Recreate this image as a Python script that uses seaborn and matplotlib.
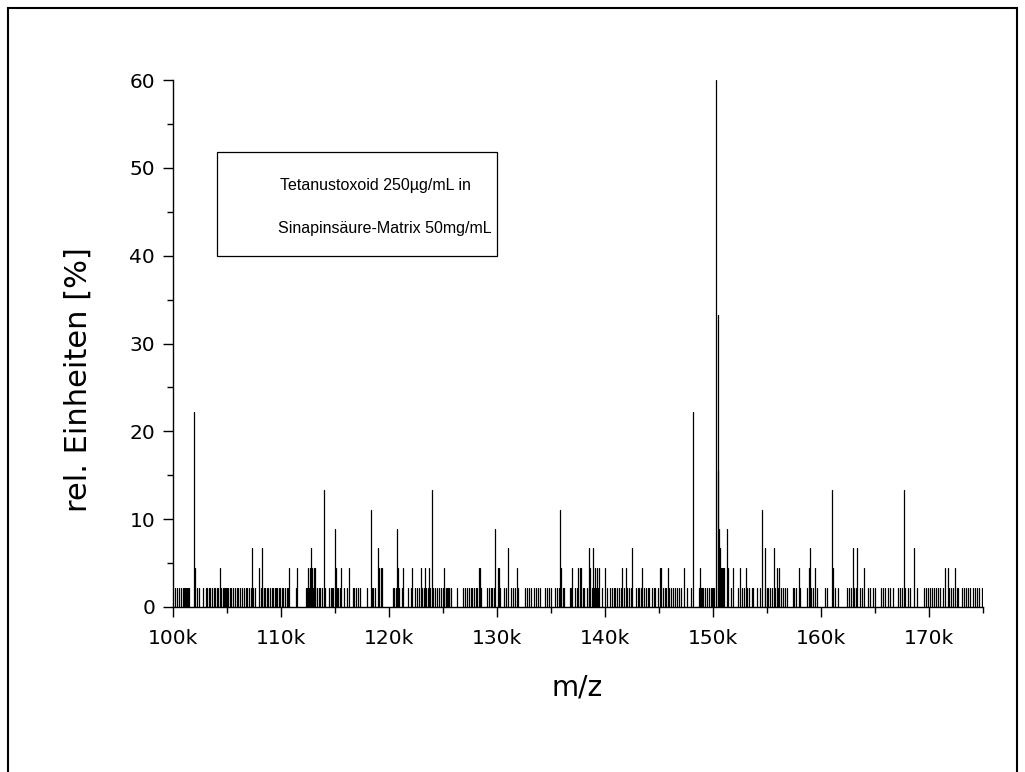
import pandas as pd
import seaborn as sns
import matplotlib.pyplot as plt
from matplotlib.ticker import MultipleLocator, FuncFormatter
from matplotlib.patches import Rectangle

# baseline noise sticks (all at the lowest level)
noise_mz = [
    100130, 100310, 100500, 100710, 100870, 100960, 101050, 101140, 101240, 101330,
    101420, 102230, 102410, 102720, 103000, 103150, 103270, 103430, 103580, 103740,
    103860, 104010, 104140, 104420, 104570, 104660, 104760, 104850, 104940, 105100,
    105220, 105370, 105560, 105740, 105870, 106020, 106210, 106390, 106550, 106700,
    106850, 107040, 107190, 107410, 107530, 108090, 108240, 108370, 108490, 108640,
    108770, 108950, 109110, 109260, 109380, 109510, 109630, 109790, 109910, 110030,
    110190, 110340, 110500, 110620, 111330, 112290, 112410, 112530, 112660, 112780,
    112900, 113030, 113150, 113270, 113460, 113610, 113740, 114040, 114450, 114570,
    114690, 114820, 115120, 115280, 115430, 115800, 116050, 116610, 116760, 116910,
    117130, 117280, 117900, 118400, 118520, 118670, 120310, 120430, 120590, 120900,
    121140, 121760, 121980, 122380, 122560, 122780, 123060, 123210, 123390, 123610,
    123770, 124070, 124260, 124410, 124570, 124750, 124940, 125100, 125250, 125370,
    125400, 125490, 125560, 125740, 126240, 126850, 127040, 127230, 127380, 127530,
    127690, 127840, 128000, 128150, 128520, 129080, 129230, 129390, 129540, 129660,
    130250, 130590, 130770, 131270, 131450, 131640, 131950, 132560, 132750, 132900,
    133090, 133430, 133610, 133770, 133950, 134420, 134600, 134750, 134970, 135370,
    135530, 135680, 136050, 136170, 136730, 136850, 137190, 137350, 137900, 138060,
    138330, 138460, 138740, 138950, 139140, 139320, 139660, 140120, 140430, 140620,
    140770, 140930, 141110, 141300, 141450, 141730, 142040, 142190, 142350, 142840,
    142990, 143150, 143300, 143580, 143770, 143920, 144070, 144290, 144480, 144630,
    144910, 145370, 145530, 145650, 145930, 146110, 146300, 146480, 146670, 146850,
    147040, 147530, 147930, 148640, 148830, 148950, 149070, 149260, 149410, 149570,
    149820, 149850, 150000, 150060, 151610, 152320, 152630, 152870, 153150, 153340,
    153550, 153710, 154010, 154320, 154790, 154940, 155100, 155250, 155400, 155740,
    155960, 156240, 156420, 156610, 156790, 157350, 157500, 157660, 158030, 158640,
    159050, 159260, 159570, 160340, 160500, 161270, 161580, 162410, 162590, 162750,
    163030, 163210, 163580, 163740, 164350, 164510, 164750, 165000, 165490, 165680,
    165900, 166200, 166390, 166610, 167130, 167280, 167440, 167750, 168060, 168210,
    168830, 169540, 169690, 169850, 170060, 170250, 170430, 170620, 170800, 170990,
    171300, 171850, 172040, 172220, 172530, 172690, 173060, 173210, 173390, 173550,
    173760, 174070, 174230, 174380, 174570, 174850,
]
noise_int = 2.2

# taller peaks
peak_mz = [
    101920, 102040, 104290, 107260, 107960, 108180, 110710, 111480, 112500, 112630,
    112720, 112870, 113000, 113120, 113920, 114940, 115030, 115530, 116270, 118270,
    118980, 119070, 119200, 119320, 120680, 120770, 121300, 122130, 122900, 123330,
    123700, 123950, 125060, 128310, 128370, 129820, 130030, 130160, 130960, 131820,
    135770, 135900, 136950, 137500, 137620, 137780, 138520, 138610, 138860, 139010,
    139200, 139410, 139970, 141540, 141910, 142440, 143430, 145060, 145190, 145770,
    147250, 148120, 148730, 150280, 150400, 150480, 150560, 150650, 150740, 150830,
    150920, 151010, 151240, 151390, 151820, 152440, 153000, 154480, 154760, 155620,
    155870, 156110, 157900, 158830, 158950, 159420, 160960, 161110, 162900, 163330,
    163980, 167620, 168610, 171420, 171700, 172380,
]
peak_int = [
    22.2, 4.4, 4.4, 6.7, 4.4, 6.7, 4.4, 4.4, 4.4, 4.4,
    6.7, 4.4, 4.4, 4.4, 13.3, 8.9, 4.4, 4.4, 4.4, 11.1,
    6.7, 4.4, 4.4, 4.4, 8.9, 4.4, 4.4, 4.4, 4.4, 4.4,
    4.4, 13.3, 4.4, 4.4, 4.4, 8.9, 4.4, 4.4, 6.7, 4.4,
    11.1, 4.4, 4.4, 4.4, 4.4, 4.4, 6.7, 4.4, 6.7, 4.4,
    4.4, 4.4, 4.4, 4.4, 4.4, 6.7, 4.4, 4.4, 4.4, 4.4,
    4.4, 22.2, 4.4, 60.0, 33.3, 15.6, 8.9, 6.7, 4.4, 4.4,
    4.4, 4.4, 8.9, 4.4, 4.4, 4.4, 4.4, 11.1, 6.7, 6.7,
    4.4, 4.4, 4.4, 4.4, 6.7, 4.4, 13.3, 4.4, 6.7, 6.7,
    4.4, 13.3, 6.7, 4.4, 4.4, 4.4,
]

xticks = [100000, 110000, 120000, 130000, 140000, 150000, 160000, 170000]

# every stick becomes a two point line from 0 up to its intensity
mz_all = noise_mz + peak_mz
int_all = [noise_int] * len(noise_mz) + peak_int
sticks = pd.DataFrame({'stick': range(len(mz_all)), 'mz': mz_all, 'int': int_all})
long = pd.concat([sticks.assign(int=0.0), sticks]).sort_values(['stick', 'int'])

sns.set_style('ticks')
plt.rcParams['font.family'] = ['DejaVu Sans']
plt.rcParams['text.color'] = 'black'

W, H = 1025, 772
fig = plt.figure(figsize=(W / 100, H / 100), dpi=100)
ax = fig.add_axes([173.3 / W, 1 - 607 / H, (983.3 - 173.3) / W, (607 - 80) / H])

sns.lineplot(data=long, x='mz', y='int', units='stick', estimator=None,
             sort=False, color='black', lw=0.9, ax=ax)

ax.set_xlim(100000, 175000)
ax.set_ylim(0, 60)
ax.set_xlabel('')
ax.set_ylabel('')
ax.set_xticks(xticks)
ax.xaxis.set_minor_locator(MultipleLocator(5000))
ax.xaxis.set_major_formatter(FuncFormatter(lambda v, p: f'{int(v / 1000)}k'))
ax.yaxis.set_major_locator(MultipleLocator(10))
ax.yaxis.set_minor_locator(MultipleLocator(5))
sns.despine(ax=ax)
for s in ['left', 'bottom']:
    ax.spines[s].set_linewidth(1.0)
    ax.spines[s].set_color('black')
ax.tick_params(which='major', length=7, width=1.0, color='black', labelsize=14.5, labelcolor='black')
ax.tick_params(axis='x', which='major', pad=9)
ax.tick_params(axis='y', which='major', pad=6)
ax.tick_params(which='minor', length=4, width=1.0, color='black')

fig.text(78 / W, 1 - 380 / H, 'rel. Einheiten [%]', rotation=90, ha='center', va='center', fontsize=22)
fig.text(577 / W, 1 - 688 / H, 'm/z', ha='center', va='center', fontsize=20)

# annotation box
fig.patches.append(Rectangle((217 / W, 1 - 256 / H), (497 - 217) / W, (256 - 152) / H,
                             transform=fig.transFigure, fill=False, ec='black', lw=0.9))
fig.text(280 / W, 1 - 190 / H, 'Tetanustoxoid 250µg/mL in', fontsize=11.5,
         family='Liberation Sans', va='baseline')
fig.text(278 / W, 1 - 233 / H, 'Sinapinsäure-Matrix 50mg/mL', fontsize=11.5,
         family='Liberation Sans', va='baseline')

# outer frame (bottom is cut off in the original)
fig.patches.append(Rectangle((8 / W, -0.05), (1017 - 8) / W, 1 - 8 / H + 0.05,
                             transform=fig.transFigure, fill=False, ec='black', lw=1.5))

fig.savefig('out.png', dpi=100)
